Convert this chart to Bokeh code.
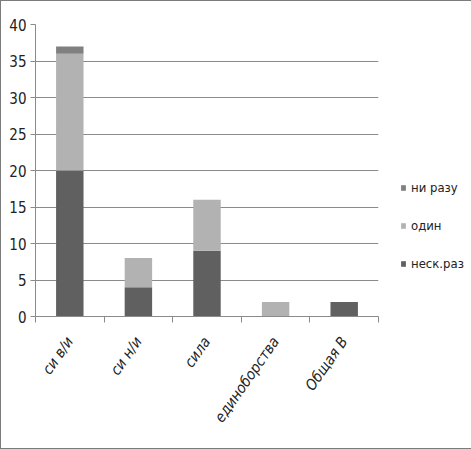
import numpy as np
from bokeh.plotting import figure
from bokeh.models import FixedTicker, Legend, LegendItem, ColumnDataSource
from bokeh.embed import file_html
from bokeh.resources import INLINE

categories = ["си в/и", "си н/и", "сила", "единоборства", "Общая В"]
nesk_raz = [20, 4, 9, 0, 2]
odin = [16, 4, 7, 2, 0]
ni_razu = [1, 0, 0, 0, 0]
series_names = ["неск.раз", "один", "ни разу"]
series_colors = ["#606060", "#b2b2b2", "#808080"]
y_ticks = [0, 5, 10, 15, 20, 25, 30, 35, 40]

FONT = "DejaVu Sans Condensed"
GRID = "#8a8a8a"

ML, MR, MT, MB = 34, 92, 23, 132
FW, FH = 343, 292

xpos = np.arange(len(categories)) + 0.5
src = ColumnDataSource(dict(x=xpos, a=nesk_raz, b=odin, c=ni_razu))

p = figure(frame_width=FW, frame_height=FH, x_range=(0, len(categories)), y_range=(0, 40),
           output_backend="svg", toolbar_location=None,
           min_border_left=ML, min_border_right=MR, min_border_top=MT, min_border_bottom=MB)
p.styles = {"border": "1px solid #7c7c7c"}
p.outline_line_color = None
p.background_fill_color = "white"

rs = p.vbar_stack(["a", "b", "c"], x="x", width=0.4, source=src,
                  color=series_colors, line_color=None)

# axes
p.yaxis.ticker = FixedTicker(ticks=y_ticks)
p.yaxis.axis_line_color = GRID
p.yaxis.major_tick_line_color = GRID
p.yaxis.major_tick_out = 5
p.yaxis.major_tick_in = 0
p.yaxis.minor_tick_line_color = None
p.yaxis.major_label_text_font = FONT
p.yaxis.major_label_text_font_size = "15px"
p.yaxis.major_label_text_color = "#222222"
p.yaxis.major_label_standoff = 4

p.xaxis.ticker = FixedTicker(ticks=list(xpos), minor_ticks=list(np.arange(len(categories) + 1)))
p.xaxis.major_label_overrides = {float(x): c for x, c in zip(xpos, categories)}
p.xaxis.axis_line_color = GRID
p.xaxis.major_tick_line_color = None
p.xaxis.minor_tick_line_color = GRID
p.xaxis.minor_tick_out = 6
p.xaxis.minor_tick_in = 0
p.xaxis.major_label_orientation = float(np.deg2rad(55))
p.xaxis.major_label_text_font = FONT
p.xaxis.major_label_text_font_style = "italic"
p.xaxis.major_label_text_font_size = "15px"
p.xaxis.major_label_text_color = "#222222"
p.xaxis.major_label_standoff = 16

p.xgrid.grid_line_color = None
p.ygrid.grid_line_color = GRID
p.ygrid.ticker = FixedTicker(ticks=y_ticks)

items = [LegendItem(label=series_names[i], renderers=[rs[i]]) for i in (2, 1, 0)]
legend = Legend(items=items, location=(22, 43), orientation="vertical",
                glyph_width=6, glyph_height=7, label_standoff=5,
                label_height=20, spacing=18, padding=0, margin=0,
                border_line_color=None, background_fill_alpha=0,
                label_text_font=FONT, label_text_font_size="13px",
                label_text_color="#222222")
p.add_layout(legend, "right")

open("out.html", "w").write(file_html(p, INLINE))
